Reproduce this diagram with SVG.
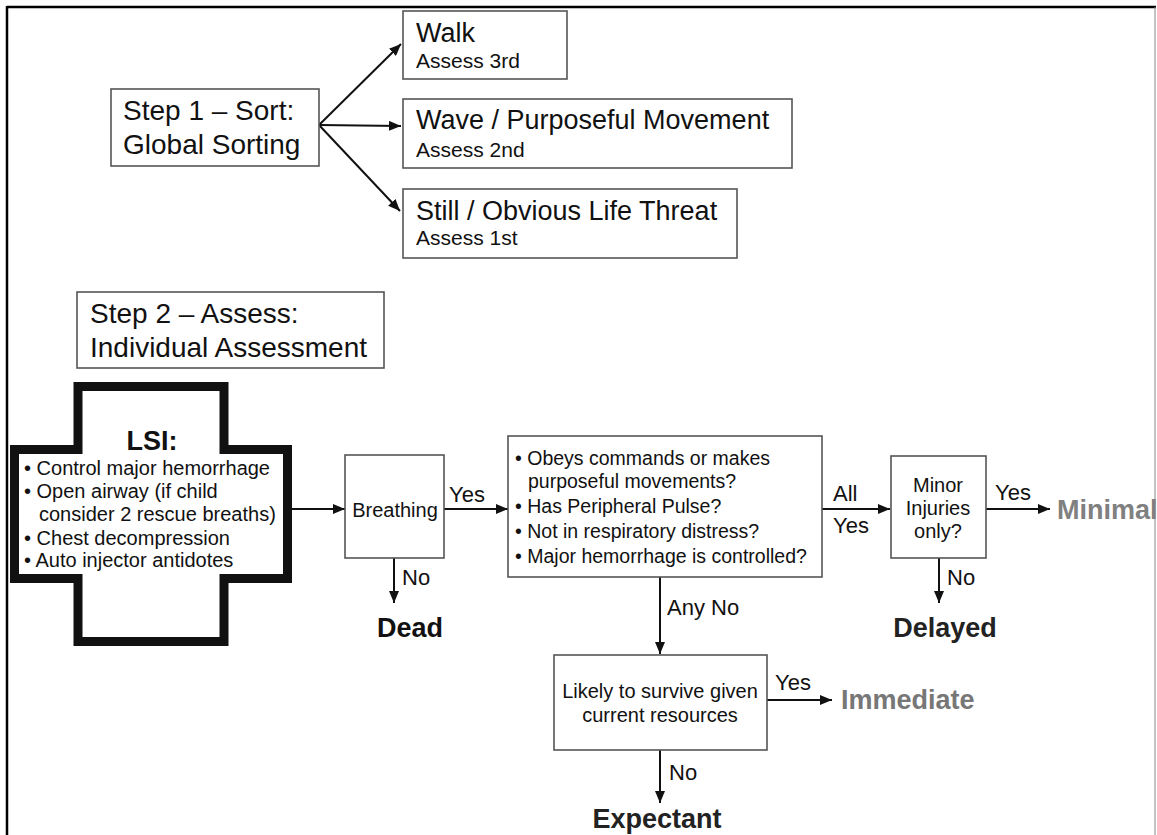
<svg xmlns="http://www.w3.org/2000/svg" width="1157" height="835" viewBox="0 0 1157 835">
<style>
  text { font-family: "Liberation Sans", Arial, sans-serif; fill: #111; }
  .box { fill: #fff; stroke: #555; stroke-width: 1.6; }
  .t27 { font-size: 27px; }
  .t28 { font-size: 28px; }
  .t21 { font-size: 21px; }
  .t20 { font-size: 20px; }
  .t19 { font-size: 19.5px; }
  .lbl { font-size: 22px; }
  .out { font-size: 27px; font-weight: bold; }
  .gray { fill: #808080; }
  .conn { stroke: #111; stroke-width: 2; fill: none; marker-end: url(#ah); }
  .mid { text-anchor: middle; }
</style>
<defs>
  <marker id="ah" viewBox="0 0 12 10" refX="12" refY="5" markerWidth="12" markerHeight="10" markerUnits="userSpaceOnUse" orient="auto">
    <path d="M0,0 L12,5 L0,10 Z" fill="#111"/>
  </marker>
</defs>
<rect width="1157" height="835" fill="#fff"/>
<g id="frame">
  <line x1="7" y1="7" x2="1156" y2="7" stroke="#000" stroke-width="2.5"/>
  <line x1="7" y1="6" x2="7" y2="835" stroke="#000" stroke-width="2.5"/>
  <line x1="1155" y1="7" x2="1155" y2="835" stroke="#888" stroke-width="1"/>
</g>
<g id="connectors">
  <line class="conn" x1="319" y1="125" x2="401" y2="44"/>
  <line class="conn" x1="319" y1="125" x2="401" y2="126"/>
  <line class="conn" x1="319" y1="125" x2="400" y2="211"/>
  <line class="conn" x1="292" y1="509" x2="345" y2="509"/>
  <line class="conn" x1="444" y1="509" x2="508" y2="509"/>
  <line class="conn" x1="394" y1="558" x2="394" y2="603"/>
  <line class="conn" x1="822" y1="509" x2="890" y2="509"/>
  <line class="conn" x1="986" y1="509" x2="1050" y2="509"/>
  <line class="conn" x1="939" y1="558" x2="939" y2="603"/>
  <line class="conn" x1="660" y1="577" x2="660" y2="654"/>
  <line class="conn" x1="767" y1="700" x2="832" y2="700"/>
  <line class="conn" x1="660" y1="750" x2="660" y2="803"/>
  <text class="lbl" x="449" y="502">Yes</text>
  <text class="lbl" x="402" y="585">No</text>
  <text class="lbl" x="833" y="501">All</text>
  <text class="lbl" x="833" y="533">Yes</text>
  <text class="lbl" x="995" y="500">Yes</text>
  <text class="lbl" x="947" y="585">No</text>
  <text class="lbl" x="667" y="615">Any No</text>
  <text class="lbl" x="775" y="690">Yes</text>
  <text class="lbl" x="669" y="780">No</text>
</g>
<g id="step1">
  <rect class="box" x="111" y="89" width="208" height="77"/>
  <text class="t28" x="123" y="120">Step 1 – Sort:</text>
  <text class="t28" x="123" y="154">Global Sorting</text>
</g>
<g id="walk">
  <rect class="box" x="403" y="11" width="164" height="68"/>
  <text class="t27" x="416" y="42">Walk</text>
  <text class="t21" x="416" y="68">Assess 3rd</text>
</g>
<g id="wave">
  <rect class="box" x="403" y="99" width="389" height="69"/>
  <text class="t27" x="416" y="129">Wave / Purposeful Movement</text>
  <text class="t21" x="416" y="157">Assess 2nd</text>
</g>
<g id="still">
  <rect class="box" x="403" y="189" width="334" height="69"/>
  <text class="t27" x="416" y="220">Still / Obvious Life Threat</text>
  <text class="t21" x="416" y="245">Assess 1st</text>
</g>
<g id="step2">
  <rect class="box" x="77" y="292" width="307" height="76"/>
  <text class="t28" x="90" y="323">Step 2 – Assess:</text>
  <text class="t28" x="90" y="357">Individual Assessment</text>
</g>
<g id="lsi">
  <path d="M78,386.5 H224 V449.5 H287.5 V578.5 H224 V641.5 H78 V578.5 H14.5 V449.5 H78 Z" fill="#fff" stroke="#111" stroke-width="9"/>
  <text x="152" y="450" class="mid" style="font-size:27px;font-weight:bold">LSI:</text>
  <g class="t20">
    <text x="24" y="475">• Control major hemorrhage</text>
    <text x="24" y="498">• Open airway (if child</text>
    <text x="39" y="521">consider 2 rescue breaths)</text>
    <text x="24" y="545">• Chest decompression</text>
    <text x="24" y="567">• Auto injector antidotes</text>
  </g>
</g>
<g id="breathing">
  <rect class="box" x="345" y="455" width="99" height="103"/>
  <text class="t20 mid" x="395" y="517">Breathing</text>
</g>
<g id="dead">
  <text class="out mid" x="410" y="637">Dead</text>
</g>
<g id="obeys">
  <rect class="box" x="508" y="436" width="314" height="141"/>
  <g class="t19">
    <text x="515" y="465">• Obeys commands or makes</text>
    <text x="528" y="488">purposeful movements?</text>
    <text x="515" y="513">• Has Peripheral Pulse?</text>
    <text x="515" y="538">• Not in respiratory distress?</text>
    <text x="515" y="563">• Major hemorrhage is controlled?</text>
  </g>
</g>
<g id="minor">
  <rect class="box" x="891" y="456" width="95" height="102"/>
  <text class="t20 mid" x="938" y="492">Minor</text>
  <text class="t20 mid" x="938" y="515">Injuries</text>
  <text class="t20 mid" x="938" y="538">only?</text>
</g>
<g id="minimal">
  <text class="out gray" x="1057" y="519">Minimal</text>
</g>
<g id="delayed">
  <text class="out mid" x="945" y="637" style="fill:#222">Delayed</text>
</g>
<g id="likely">
  <rect class="box" x="554" y="655" width="213" height="95"/>
  <text class="t20 mid" x="660" y="698">Likely to survive given</text>
  <text class="t20 mid" x="660" y="722">current resources</text>
</g>
<g id="immediate">
  <text class="out gray" x="841" y="709" style="fill:#777">Immediate</text>
</g>
<g id="expectant">
  <text class="out mid" x="657" y="828" style="fill:#222">Expectant</text>
</g>
</svg>
